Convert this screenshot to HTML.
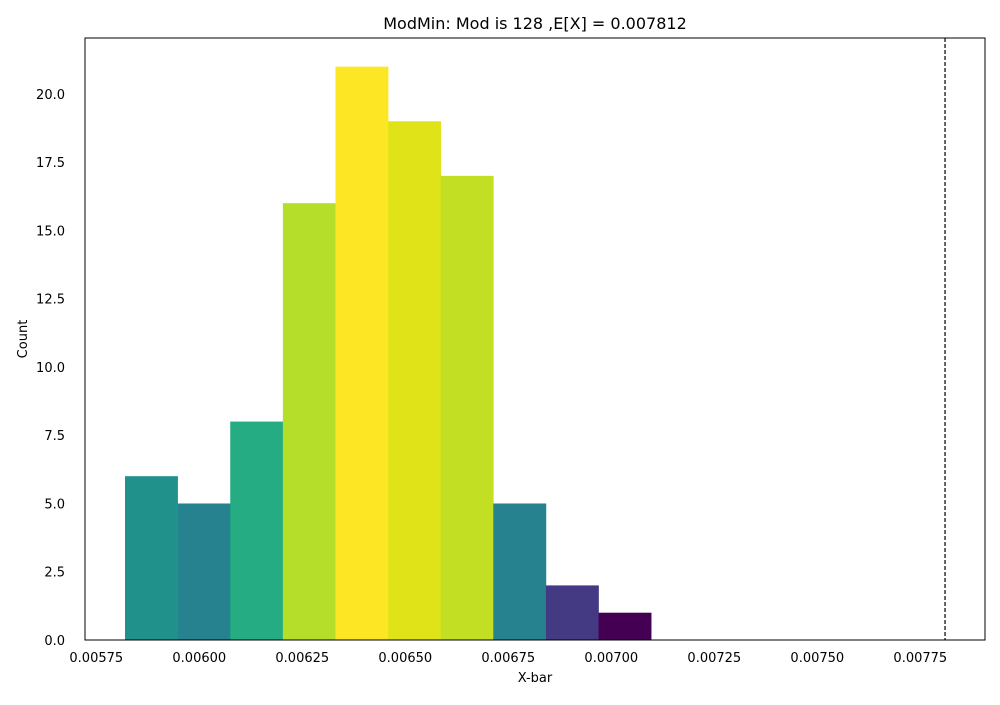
<!DOCTYPE html>
<html><head><meta charset="utf-8"><style>
body{margin:0;background:#fff;font-family:"Liberation Sans","DejaVu Sans",sans-serif;}
svg text{font-family:"DejaVu Sans","Liberation Sans",sans-serif;}
</style></head><body>
<svg id="chart" width="1000" height="700" xmlns="http://www.w3.org/2000/svg">
<rect width="1000" height="700" fill="#fff"/>
<text x="535" y="29" font-size="16" text-anchor="middle">ModMin: Mod is 128 ,E[X] = 0.007812</text>
<g id="bars"></g>
<g id="xticks"></g>
<g id="yticks"></g>
<line id="mean-line" stroke="#000" stroke-width="1.2" stroke-dasharray="4,2"/>
<rect x="85" y="38" width="900" height="602" fill="none" stroke="#000" stroke-width="1"/>
<text x="535" y="682" font-size="13" text-anchor="middle">X-bar</text>
<text x="27" y="339" font-size="13" text-anchor="middle" transform="rotate(-90 27 339)">Count</text>
</svg>
<script>
const binStart = 0.0058197;
const binWidth = 0.0001277;
const counts = [6, 5, 8, 16, 21, 19, 17, 5, 2, 1];
const barColors = ["#21918c","#26828e","#25ac82","#b5de2b","#fde725","#e0e318","#c2df23","#26828e","#443983","#440154"];
const xTicks = [0.00575, 0.00600, 0.00625, 0.00650, 0.00675, 0.00700, 0.00725, 0.00750, 0.00775];
const yTicks = [0, 2.5, 5, 7.5, 10, 12.5, 15, 17.5, 20];
const meanValue = 0.007810;

const X0 = 85, X1 = 985, Y0 = 640, Y1 = 38;
const xMin = 0.0057226, xMax = 0.0079070, yMin = 0, yMax = 22.05;
const xs = v => X0 + (v - xMin) / (xMax - xMin) * (X1 - X0);
const ys = v => Y0 - (v - yMin) / (yMax - yMin) * (Y0 - Y1);
const NS = "http://www.w3.org/2000/svg";

const bars = document.getElementById('bars');
counts.forEach((c, i) => {
  const r = document.createElementNS(NS, 'rect');
  const a = xs(binStart + i * binWidth), b = xs(binStart + (i + 1) * binWidth);
  r.setAttribute('x', a); r.setAttribute('width', b - a + 0.3);
  r.setAttribute('y', ys(c)); r.setAttribute('height', ys(0) - ys(c));
  r.setAttribute('fill', barColors[i]);
  
  
  bars.appendChild(r);
});
const xg = document.getElementById('xticks');
xTicks.forEach(t => {
  const tx = document.createElementNS(NS, 'text');
  tx.setAttribute('x', xs(t)); tx.setAttribute('y', 662);
  tx.setAttribute('font-size', '13'); tx.setAttribute('text-anchor', 'middle');
  tx.textContent = t.toFixed(5);
  
  
  xg.appendChild(tx);
});
const yg = document.getElementById('yticks');
yTicks.forEach(t => {
  const tx = document.createElementNS(NS, 'text');
  tx.setAttribute('x', 65); tx.setAttribute('y', ys(t) + 5);
  tx.setAttribute('font-size', '13'); tx.setAttribute('text-anchor', 'end');
  tx.textContent = t.toFixed(1);
  
  
  yg.appendChild(tx);
});
const ml = document.getElementById('mean-line');
ml.setAttribute('x1', xs(meanValue)); ml.setAttribute('x2', xs(meanValue));
ml.setAttribute('y1', Y1); ml.setAttribute('y2', Y0);
</script>
</body></html>
